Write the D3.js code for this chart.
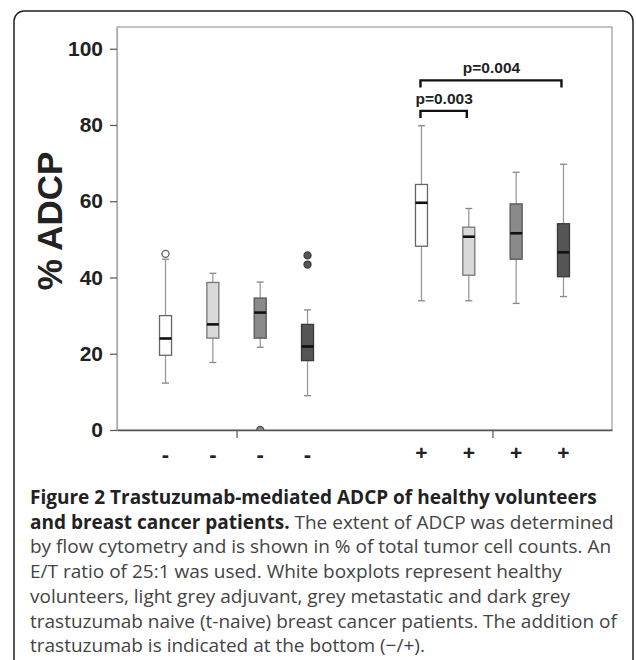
<!DOCTYPE html>
<html>
<head>
<meta charset="utf-8">
<script src="https://cdn.jsdelivr.net/npm/d3@7"></script>
<style>
  body { margin: 0; background: #fff; }
  .axis text { font-family: "Liberation Sans", Arial, sans-serif; font-weight: bold; }
</style>
</head>
<body>
<script>

// chart values
var groups = ["-", "+"];                     // trastuzumab added or not
var cohorts = ["healthy", "adjuvant", "metastatic", "t-naive"];
var yTicks = [0, 20, 40, 60, 80, 100];

// one entry per box, "-" group first then "+" group
var lowWhisker  = [12.3, 17.7, 21.7,  9.0, 33.9, 33.9, 33.2, 35.0];
var q1          = [19.6, 24.1, 24.1, 18.2, 48.2, 40.6, 44.8, 40.2];
var median      = [24.0, 27.7, 30.8, 21.9, 59.6, 50.7, 51.6, 46.6];
var q3          = [30.0, 38.7, 34.6, 27.7, 64.4, 53.2, 59.3, 54.1];
var highWhisker = [44.8, 41.1, 38.8, 31.5, 79.8, 58.1, 67.6, 69.7];
var outliers    = [[46.2], [], [0], [45.8, 43.4], [], [], [], []];

// significance brackets, within the "+" group
var comparisons = [
    { from: "healthy", to: "adjuvant", label: "p=0.003", level: 83.7 },
    { from: "healthy", to: "t-naive", label: "p=0.004", level: 91.7 }
];

var captionBold = ["Figure 2 Trastuzumab-mediated ADCP of healthy volunteers", "and breast cancer patients."];
var captionLines = [
    "The extent of ADCP was determined",
    "by flow cytometry and is shown in % of total tumor cell counts. An",
    "E/T ratio of 25:1 was used. White boxplots represent healthy",
    "volunteers, light grey adjuvant, grey metastatic and dark grey",
    "trastuzumab naive (t-naive) breast cancer patients. The addition of",
    "trastuzumab is indicated at the bottom (\u2212/+)."
];

// styles
var fills = ["#ffffff", "#d9d9d9", "#8a8a8a", "#555555"];
var strokes = ["#666666", "#777777", "#555555", "#3a3a3a"];

var width = 636, height = 660;
var plot = { left: 117, right: 612, top: 27, bottom: 430 };

var svg = d3.select("body")
    .append("svg")
    .attr("width", width)
    .attr("height", height);

// rounded figure border, open at the bottom
svg.append("rect")
    .attr("x", 14)
    .attr("y", 11)
    .attr("width", 619)
    .attr("height", 700)
    .attr("rx", 10)
    .attr("fill", "none")
    .attr("stroke", "#222")
    .attr("stroke-width", 1.5);

var y = d3.scaleLinear()
    .domain([0, 105.7])
    .range([plot.bottom, plot.top]);

var xGroup = d3.scalePoint()
    .domain(groups)
    .range([plot.left, plot.right])
    .padding(0.467);

var xSub = d3.scalePoint()
    .domain(cohorts)
    .range([-71, 71]);

var boxWidth = 12, capWidth = 7;

// build one record per box from the arrays
var boxes = [];
groups.forEach(function (g, gi) {
    cohorts.forEach(function (c, ci) {
        var i = gi * cohorts.length + ci;
        boxes.push({
            group: g, cohort: c, ci: ci,
            x: xGroup(g) + xSub(c),
            lo: lowWhisker[i], q1: q1[i], med: median[i], q3: q3[i], hi: highWhisker[i],
            out: outliers[i]
        });
    });
});

svg.append("defs").append("clipPath")
    .attr("id", "plotclip")
    .append("rect")
    .attr("x", plot.left)
    .attr("y", plot.top)
    .attr("width", plot.right - plot.left)
    .attr("height", plot.bottom - plot.top);

// frame
svg.append("rect")
    .attr("x", plot.left)
    .attr("y", plot.top)
    .attr("width", plot.right - plot.left)
    .attr("height", plot.bottom - plot.top)
    .attr("fill", "#fff")
    .attr("stroke", "#999")
    .attr("stroke-width", 1.2);

var gY = svg.append("g")
    .attr("class", "axis axis--y")
    .attr("transform", "translate(" + plot.left + ",0)")
    .call(d3.axisLeft(y).tickValues(yTicks).tickSize(7).tickPadding(7).tickSizeOuter(0));
gY.select(".domain").attr("stroke", "#aaa").attr("stroke-width", 1.2);
gY.selectAll(".tick line").attr("stroke", "#555").attr("stroke-width", 1.2);
gY.selectAll(".tick text").attr("font-size", 21).attr("fill", "#222");

var gX = svg.append("g")
    .attr("class", "axis axis--x")
    .attr("transform", "translate(0," + plot.bottom + ")")
    .call(d3.axisBottom(xGroup).tickSize(8).tickSizeOuter(0).tickFormat(""));
gX.select(".domain").attr("stroke", "#555").attr("stroke-width", 1.5);
gX.selectAll(".tick line").attr("stroke", "#555").attr("stroke-width", 1.2);

// -/+ labels under every box
svg.selectAll(".sign")
    .data(boxes)
    .enter().append("text")
    .attr("class", "sign")
    .attr("x", function (d) { return d.x; })
    .attr("y", function (d) { return d.group === "+" ? 460 : 462; })
    .attr("text-anchor", "middle")
    .attr("font-family", "Liberation Sans, Arial, sans-serif")
    .attr("font-weight", "bold")
    .attr("font-size", function (d) { return d.group === "+" ? 21 : 22; })
    .attr("fill", "#222")
    .text(function (d) { return d.group; });

var marks = svg.append("g").attr("clip-path", "url(#plotclip)");

var boxG = marks.selectAll(".box")
    .data(boxes)
    .enter().append("g")
    .attr("class", "box");

// whiskers
boxG.append("line")
    .attr("x1", function (d) { return d.x; })
    .attr("x2", function (d) { return d.x; })
    .attr("y1", function (d) { return y(d.lo); })
    .attr("y2", function (d) { return y(d.hi); })
    .attr("stroke", "#9a9a9a")
    .attr("stroke-width", 1.3);

["lo", "hi"].forEach(function (k) {
    boxG.append("line")
        .attr("x1", function (d) { return d.x - capWidth / 2; })
        .attr("x2", function (d) { return d.x + capWidth / 2; })
        .attr("y1", function (d) { return y(d[k]); })
        .attr("y2", function (d) { return y(d[k]); })
        .attr("stroke", "#888")
        .attr("stroke-width", 1.3);
});

boxG.append("rect")
    .attr("x", function (d) { return d.x - boxWidth / 2; })
    .attr("y", function (d) { return y(d.q3); })
    .attr("width", boxWidth)
    .attr("height", function (d) { return y(d.q1) - y(d.q3); })
    .attr("fill", function (d) { return fills[d.ci]; })
    .attr("stroke", function (d) { return strokes[d.ci]; })
    .attr("stroke-width", 1.3);

boxG.append("line")
    .attr("x1", function (d) { return d.x - boxWidth / 2; })
    .attr("x2", function (d) { return d.x + boxWidth / 2; })
    .attr("y1", function (d) { return y(d.med); })
    .attr("y2", function (d) { return y(d.med); })
    .attr("stroke", "#111")
    .attr("stroke-width", 2.6);

boxG.selectAll(".outlier")
    .data(function (d) { return d.out.map(function (v) { return { v: v, box: d }; }); })
    .enter().append("circle")
    .attr("class", "outlier")
    .attr("cx", function (o) { return o.box.x; })
    .attr("cy", function (o) { return y(o.v); })
    .attr("r", 3.5)
    .attr("fill", function (o) { return o.box.ci === 0 ? "#fff" : fills[o.box.ci]; })
    .attr("stroke", function (o) { return o.box.ci === 0 ? "#666" : strokes[o.box.ci]; })
    .attr("stroke-width", 1.3);

// significance brackets
var bracket = svg.selectAll(".bracket")
    .data(comparisons)
    .enter().append("g")
    .attr("class", "bracket");

bracket.append("path")
    .attr("d", function (d) {
        var x1 = xGroup("+") + xSub(d.from) - 1,
            x2 = xGroup("+") + xSub(d.to) - 2,
            yy = y(d.level);
        return "M" + x1 + "," + (yy + 7) + "V" + yy + "H" + x2 + "V" + (yy + 7);
    })
    .attr("fill", "none")
    .attr("stroke", "#111")
    .attr("stroke-width", 2.4);

bracket.append("text")
    .attr("x", function (d) {
        return (xGroup("+") + xSub(d.from) + xGroup("+") + xSub(d.to)) / 2 - 1;
    })
    .attr("y", function (d) { return y(d.level) - 7; })
    .attr("text-anchor", "middle")
    .attr("font-family", "Liberation Sans, Arial, sans-serif")
    .attr("font-weight", "bold")
    .attr("font-size", 15.5)
    .attr("fill", "#222")
    .text(function (d) { return d.label; });

// y axis title
svg.append("text")
    .attr("transform", "translate(62," + 221 + ") rotate(-90)")
    .attr("text-anchor", "middle")
    .attr("font-family", "Liberation Sans, Arial, sans-serif")
    .attr("font-weight", "bold")
    .attr("font-size", 35)
    .attr("fill", "#222")
    .text("% ADCP");

// caption
var caption = svg.append("text")
    .attr("font-family", "Open Sans, sans-serif")
    .attr("font-size", 19)
    .attr("fill", "#444");

var lineHeight = 24.7, captionTop = 504, captionLeft = 30;

caption.append("tspan")
    .attr("x", captionLeft)
    .attr("y", captionTop)
    .attr("font-weight", "bold")
    .attr("fill", "#222")
    .text(captionBold[0]);

caption.append("tspan")
    .attr("x", captionLeft)
    .attr("y", captionTop + lineHeight)
    .attr("font-weight", "bold")
    .attr("fill", "#222")
    .text(captionBold[1] + " ");

caption.append("tspan")
    .text(captionLines[0]);

captionLines.slice(1).forEach(function (line, i) {
    caption.append("tspan")
        .attr("x", captionLeft)
        .attr("y", captionTop + lineHeight * (i + 2))
        .text(line);
});

</script>
</body>
</html>
